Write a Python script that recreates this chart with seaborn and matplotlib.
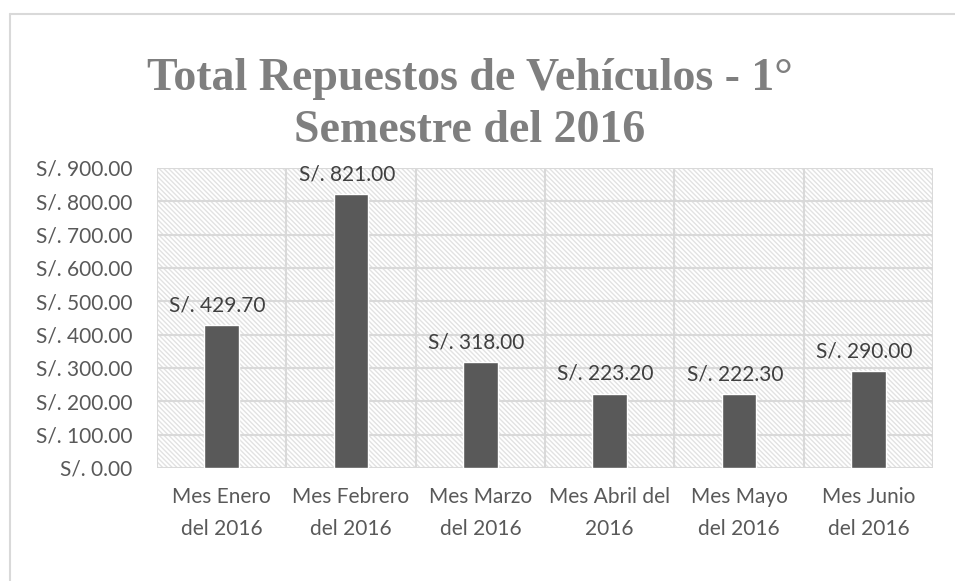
import seaborn as sns
import pandas as pd
import matplotlib.pyplot as plt
from matplotlib.patches import Rectangle
from matplotlib.lines import Line2D

# Data
meses = [
    "Mes Enero\ndel 2016",
    "Mes Febrero\ndel 2016",
    "Mes Marzo\ndel 2016",
    "Mes Abril del\n2016",
    "Mes Mayo\ndel 2016",
    "Mes Junio\ndel 2016",
]
totales = [429.70, 821.00, 318.00, 223.20, 222.30, 290.00]
y_ticks = [0, 100, 200, 300, 400, 500, 600, 700, 800, 900]

df = pd.DataFrame({"mes": meses, "total": totales})

sns.set_style("white")
plt.rcParams["font.family"] = ["Lato", "DejaVu Sans"]
plt.rcParams["hatch.linewidth"] = 1.0

grid_color = "#D9D9D9"
text_color = "#595959"
fs = 15

fig = plt.figure(figsize=(9.55, 5.81), dpi=100)
ax = fig.add_axes([157 / 955, 1 - 468 / 581, 776 / 955, 300 / 581])

# hatched plot area background
ax.add_patch(
    Rectangle(
        (0, 0), 1, 1,
        transform=ax.transAxes,
        facecolor="white",
        edgecolor="#E2E2E2",
        hatch="\\" * 7,
        linewidth=0,
        zorder=0,
    )
)

sns.barplot(data=df, x="mes", y="total", color="#595959", width=0.27,
            saturation=1, ax=ax, zorder=3)

ax.set_xlim(-0.5, len(meses) - 0.5)
ax.set_ylim(0, 900)
ax.set_yticks(y_ticks)
ax.set_yticklabels([f"S/. {v:.2f}" for v in y_ticks])

# grid lines
for v in y_ticks:
    ax.axhline(v, color=grid_color, linewidth=1.5, zorder=1)
for i in range(len(meses) + 1):
    ax.axvline(i - 0.5, color=grid_color, linewidth=1.5, zorder=1)

for s in ax.spines.values():
    s.set_visible(False)

ax.set_xlabel("")
ax.set_ylabel("")
ax.tick_params(axis="y", length=0, pad=18, labelsize=fs, labelcolor=text_color)
ax.tick_params(axis="x", length=0, pad=14, labelsize=fs, labelcolor=text_color)
for lbl in ax.get_xticklabels():
    lbl.set_linespacing(1.75)

# data labels (use the bar container, not ax.patches which holds the background)
for p, v in zip(ax.containers[0], totales):
    ax.annotate(
        f"S/. {v:.2f}",
        (p.get_x() + p.get_width() / 2.0, p.get_height()),
        ha="center",
        va="bottom",
        fontsize=fs,
        color="#404040",
        xytext=(-3, 7),
        textcoords="offset points",
        zorder=4,
    )

fig.suptitle(
    "Total Repuestos de Vehículos - 1°\nSemestre del 2016",
    x=0.492, y=1 - 58 / 581, va="top",
    fontsize=33, fontweight="bold", color="#7F7F7F",
    family=["Liberation Serif", "DejaVu Serif"], linespacing=1.3,
)

# chart area border (cropped)
fig.add_artist(Line2D([10 / 955, 10 / 955], [0, 1 - 14 / 581],
                      transform=fig.transFigure, color=grid_color, linewidth=1.5))
fig.add_artist(Line2D([10 / 955, 1], [1 - 14 / 581, 1 - 14 / 581],
                      transform=fig.transFigure, color=grid_color, linewidth=1.5))

fig.savefig("out.png", dpi=100, facecolor="white")
